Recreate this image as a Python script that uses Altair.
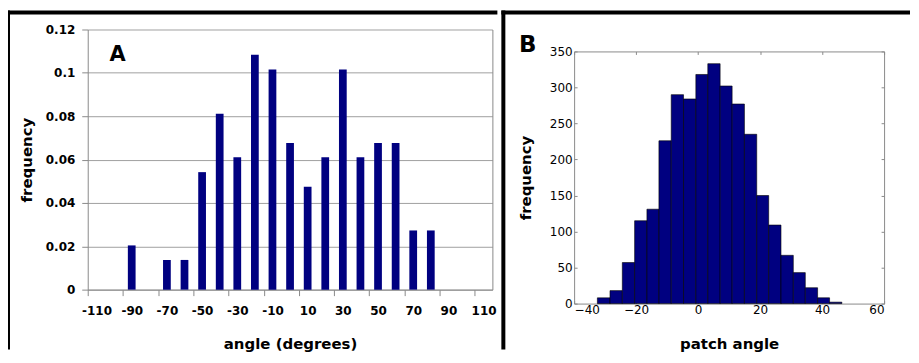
import altair as alt
import pandas as pd

# ---------------- Panel A data ----------------
a_categories = [-110, -100, -90, -80, -70, -60, -50, -40, -30, -20, -10, 0,
                10, 20, 30, 40, 50, 60, 70, 80, 90, 100, 110]
a_angles = [-90, -70, -60, -50, -40, -30, -20, -10, 0, 10, 20, 30, 40, 50, 60, 70, 80]
a_freq = [0.0204, 0.0137, 0.0137, 0.0542, 0.0811, 0.0611, 0.1083, 0.1015, 0.0676,
          0.0475, 0.0611, 0.1015, 0.0611, 0.0676, 0.0676, 0.0273, 0.0273]
a_xticks = [-110, -90, -70, -50, -30, -10, 10, 30, 50, 70, 90, 110]
a_yticks = [0, 0.02, 0.04, 0.06, 0.08, 0.1, 0.12]

# ---------------- Panel B data ----------------
b_edges = [-32.5, -28.42, -24.45, -20.48, -16.51, -12.64, -8.67, -4.70, -0.73, 3.13,
           7.10, 10.97, 14.94, 18.91, 22.77, 26.74, 30.71, 34.58, 38.55, 42.41, 46.38]
b_counts = [8, 18, 57, 115, 131, 226, 290, 284, 318, 333, 302, 277, 235, 150, 109,
            67, 43, 22, 8, 2]
b_xticks = [-40, -20, 0, 20, 40, 60]
b_yticks = [0, 50, 100, 150, 200, 250, 300, 350]

FONT = "DejaVu Sans"
GRAY = "#8a8a8a"
NAVY = "#000080"

A_W = 406
A_VIEW_H = 239        # view height (aligned with panel B's top)
A_TOP = -22           # panel A's plot area rises above the shared view top
B_W, B_H = 311, 253
A_STEP = A_W / len(a_categories)

df_a = pd.DataFrame({"angle": a_angles, "freq": a_freq})
df_b = pd.DataFrame({"left": b_edges[:-1], "right": b_edges[1:], "count": b_counts})
one = alt.Data(values=[{}])


def block(x1, x2, y1, y2):
    return alt.Chart(one).mark_rect(color="black").encode(
        x=alt.value(x1), x2=alt.value(x2), y=alt.value(y1), y2=alt.value(y2))


# ---------------- Panel A ----------------
ys_a = alt.Scale(domain=[0, 0.12], nice=False, range=[A_VIEW_H, A_TOP])

bars_a = alt.Chart(df_a).mark_bar(color=NAVY).encode(
    x=alt.X("angle:O",
            scale=alt.Scale(domain=a_categories, paddingInner=0.56, paddingOuter=0.28),
            axis=alt.Axis(values=a_xticks, labelAngle=0, bandPosition=0.5,
                          tickOffset=-A_STEP / 2, labelOffset=A_STEP / 2,
                          tickSize=6, tickColor=GRAY, domainColor=GRAY,
                          labelPadding=10, labelFont=FONT, labelFontWeight="bold",
                          labelFontSize=12, labelColor="black",
                          title="angle (degrees)", titleFont=FONT, titleFontSize=15,
                          titleFontWeight="bold", titleColor="black", titlePadding=20,
                          grid=False)),
    y=alt.Y("freq:Q", scale=ys_a,
            axis=alt.Axis(values=a_yticks, format=".2~f", tickSize=6, tickColor=GRAY,
                          domainColor=GRAY, grid=True, gridColor="#a0a0a0",
                          labelPadding=7, labelFont=FONT, labelFontWeight="bold",
                          labelFontSize=12, labelColor="black",
                          title="frequency", titleFont=FONT, titleFontSize=15,
                          titleFontWeight="bold", titleColor="black", titlePadding=11)),
)

right_edge_a = alt.Chart(df_a).mark_point(opacity=0).encode(
    y=alt.Y("freq:Q", scale=ys_a,
            axis=alt.Axis(orient="right", labels=False, ticks=False, grid=False,
                          domain=True, domainColor=GRAY, title=None)),
)

label_a = alt.Chart(one).mark_text(text="A", font=FONT, fontWeight="bold", fontSize=21,
                                   align="center", baseline="alphabetic",
                                   color="black").encode(x=alt.value(30), y=alt.value(10))

panel_a = alt.layer(
    bars_a, right_edge_a, label_a,
    block(-81, -78, -41, 299),
    block(-81, 411, -41, -37),
).resolve_axis(y="independent").properties(
    width=A_W, height=A_VIEW_H, view=alt.ViewBackground(stroke="transparent"))

# ---------------- Panel B ----------------
xs_b = alt.Scale(domain=[-40, 60], nice=False)
ys_b = alt.Scale(domain=[0, 350], nice=False)

bars_b = alt.Chart(df_b).mark_bar(color=NAVY, stroke="black", strokeWidth=0.6).encode(
    x=alt.X("left:Q", scale=xs_b,
            axis=alt.Axis(values=b_xticks, ticks=False, domain=False, grid=False,
                          labelPadding=1, labelFont=FONT, labelFontSize=12,
                          labelColor="black", title="patch angle", titleFont=FONT,
                          titleFontSize=15, titleFontWeight="bold", titleColor="black",
                          titlePadding=21)),
    x2="right:Q",
    y=alt.Y("count:Q", scale=ys_b,
            axis=alt.Axis(values=b_yticks, ticks=False, domain=False, grid=False,
                          labelPadding=2, labelFont=FONT, labelFontSize=12,
                          labelColor="black", title="frequency", titleFont=FONT,
                          titleFontSize=15, titleFontWeight="bold", titleColor="black",
                          titlePadding=16)),
    y2=alt.datum(0),
)


def tick_layer(xorient, yorient):
    return alt.Chart(df_b).mark_point(opacity=0).encode(
        x=alt.X("left:Q", scale=xs_b,
                axis=alt.Axis(values=b_xticks, orient=xorient, offset=-B_H, labels=False,
                              domain=False, grid=False, tickSize=3, tickColor=GRAY,
                              title=None)),
        y=alt.Y("count:Q", scale=ys_b,
                axis=alt.Axis(values=b_yticks, orient=yorient, offset=-B_W, labels=False,
                              domain=False, grid=False, tickSize=3, tickColor=GRAY,
                              title=None)),
    )


label_b = alt.Chart(one).mark_text(text="B", font=FONT, fontWeight="bold", fontSize=23,
                                   align="center", baseline="alphabetic",
                                   color="black").encode(x=alt.value(-46.5), y=alt.value(1))

panel_b = alt.layer(
    bars_b, tick_layer("top", "right"), tick_layer("bottom", "left"), label_b,
    block(-73, 337, -41, -37),
    block(-73, -69, -41, 299),
).resolve_axis(x="independent", y="independent").properties(
    width=B_W, height=B_H, view=alt.ViewBackground(stroke=GRAY, strokeWidth=1))

chart = alt.concat(panel_a, panel_b, columns=2, spacing=2, align="none").properties(
    padding={"left": -2, "top": 1, "right": 0, "bottom": 0}
).configure(background="white")

chart.save("out.html", embed_options={"renderer": "svg", "actions": False})
